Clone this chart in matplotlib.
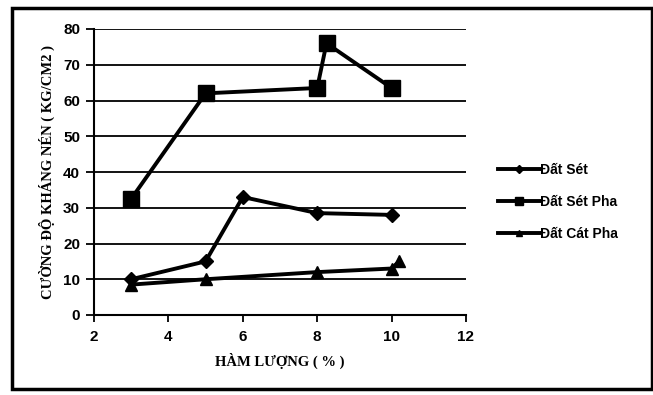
import matplotlib.pyplot as plt
from matplotlib.patches import Rectangle

# data
x_set = [3, 5, 6, 8, 10]
y_set = [10, 15, 33, 28.5, 28]
x_setpha = [3, 5, 8, 8.25, 10]
y_setpha = [32.5, 62, 63.5, 76, 63.5]
x_catpha = [3, 5, 8, 10, 10.2]
y_catpha = [8.5, 10, 12, 13, 15]
labels = ['Đất Sét', 'Đất Sét Pha', 'Đất Cát Pha']

fig = plt.figure(figsize=(6.53, 3.95), dpi=100)
ax = fig.add_axes([94 / 653, 1 - 315 / 395, 372 / 653, 286 / 395])

ax.plot(x_set, y_set, color='black', lw=2.8, marker='D', ms=7, label=labels[0])
ax.plot(x_setpha, y_setpha, color='black', lw=2.8, marker='s', ms=11, label=labels[1])
ax.plot(x_catpha, y_catpha, color='black', lw=2.8, marker='^', ms=9, label=labels[2])

ax.set_xlim(2, 12)
ax.set_ylim(0, 80)
ax.set_xticks([2, 4, 6, 8, 10, 12])
ax.set_yticks(range(0, 81, 10))
ax.yaxis.grid(True, color='black', lw=1.3)
ax.set_axisbelow(True)
for s in ['top', 'right']:
    ax.spines[s].set_visible(False)
ax.spines['left'].set_linewidth(1.5)
ax.spines['bottom'].set_linewidth(1.5)
ax.tick_params(axis='y', direction='out', length=6, width=1.3, pad=4)
ax.tick_params(axis='x', direction='out', length=5, width=1.3, pad=6)
for t in ax.get_xticklabels() + ax.get_yticklabels():
    t.set_fontweight('bold')
    t.set_fontsize(11)
    t.set_family('Liberation Sans')

ax.set_xlabel('HÀM LƯỢNG ( % )', fontsize=10.5, fontweight='bold', family='Liberation Serif', labelpad=6)
ax.set_ylabel('CƯỜNG ĐỘ KHÁNG NÉN ( KG/CM2 )', fontsize=10.5, fontweight='bold', family='Liberation Serif', labelpad=6)

leg = ax.legend(loc='center left', bbox_to_anchor=(1.053, 0.395), frameon=False,
                prop={'family': 'Liberation Sans', 'weight': 'bold', 'size': 10},
                markerscale=0.55, handlelength=3.0, handletextpad=0.0, labelspacing=1.3)

# outer frame
fig.patches.append(Rectangle((12 / 653, 6 / 395), 640 / 653, 381 / 395, transform=fig.transFigure,
                             fill=False, edgecolor='black', lw=2.5))

fig.savefig('out.png', dpi=100)
